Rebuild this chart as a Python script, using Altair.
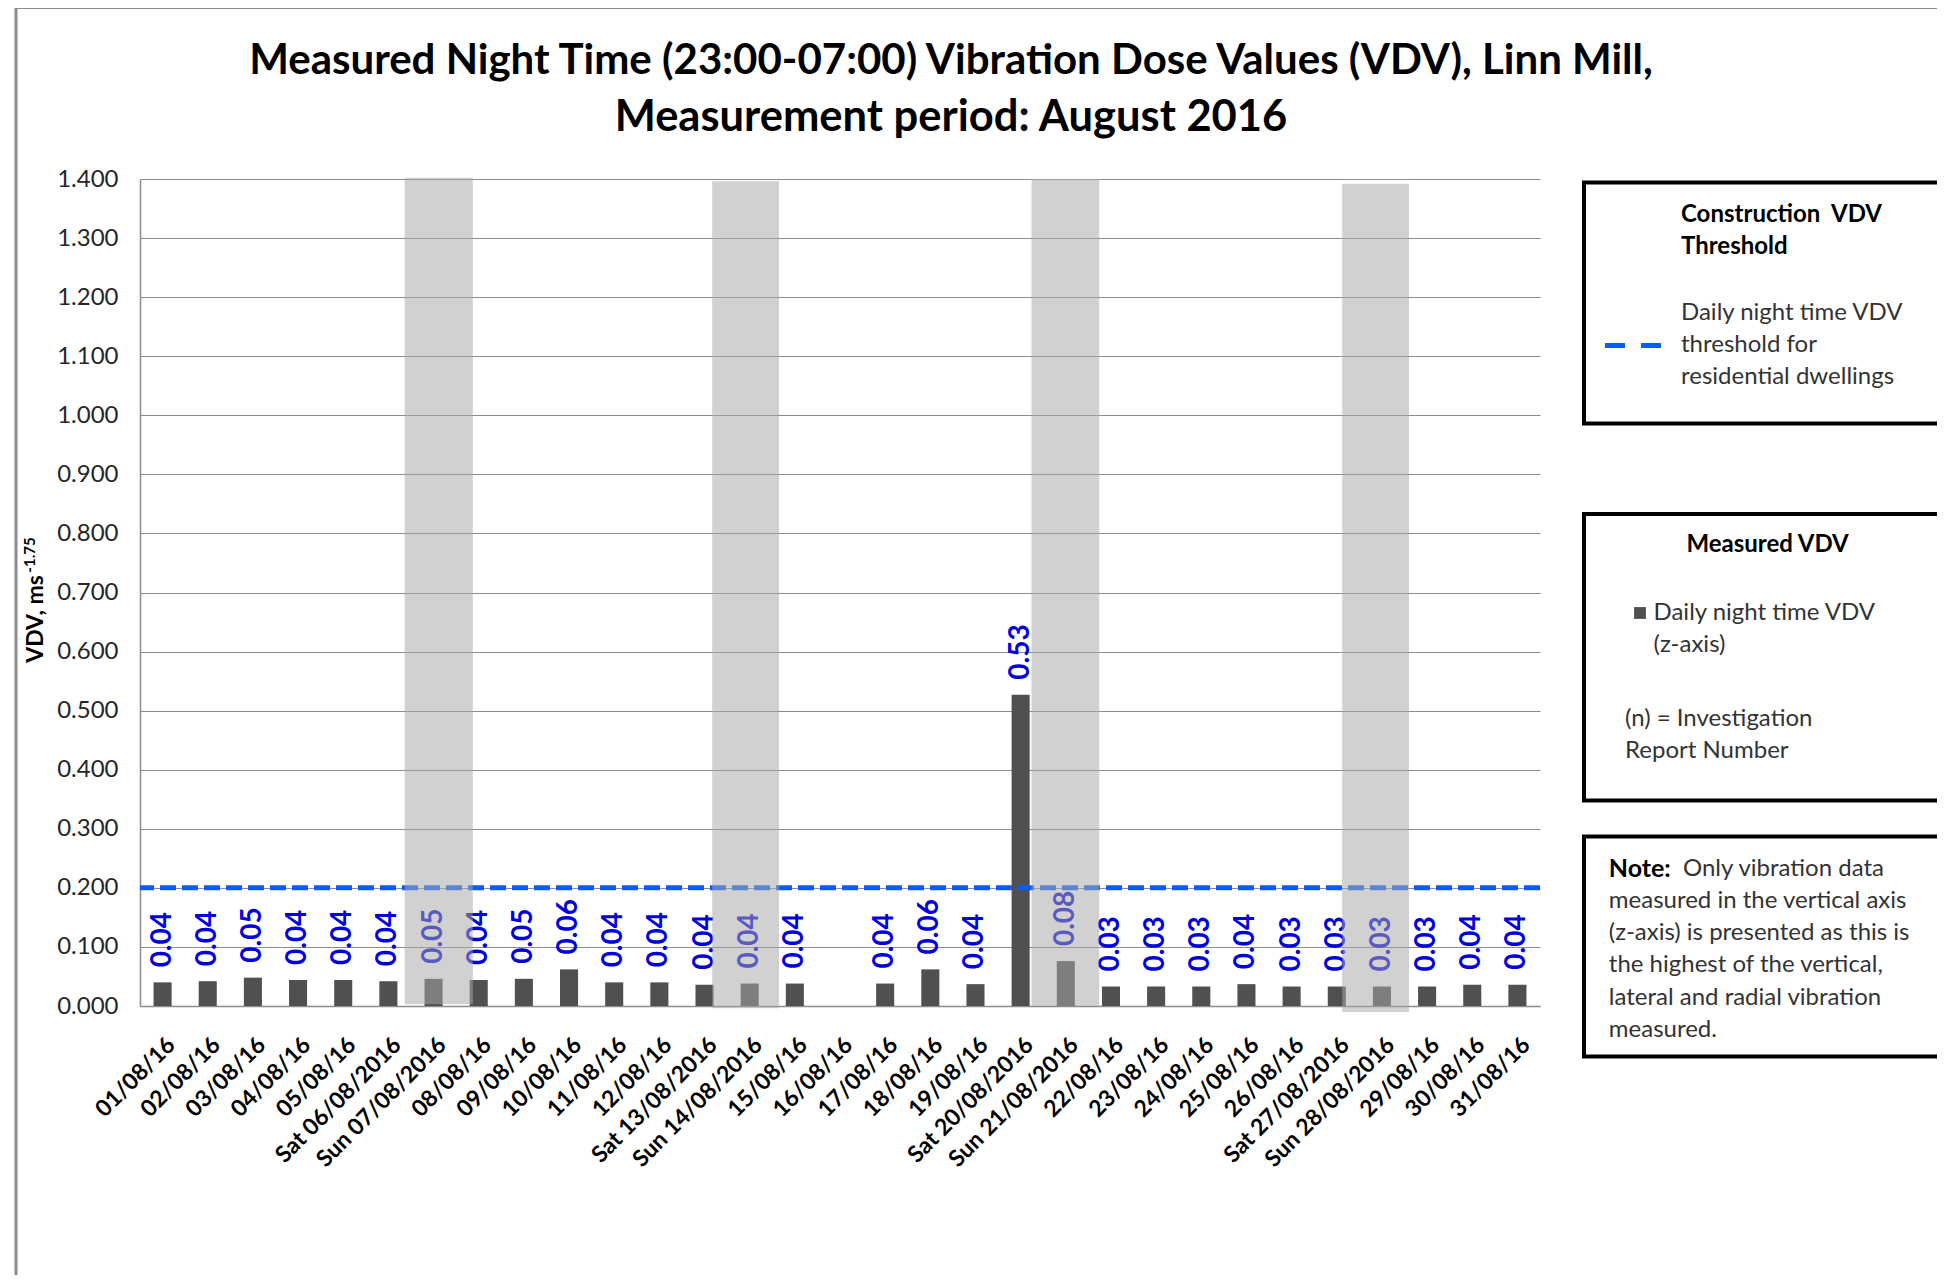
import altair as alt
import pandas as pd

# ---------------- data ----------------
DAYS = ["01/08/16", "02/08/16", "03/08/16", "04/08/16", "05/08/16",
        "Sat 06/08/2016", "Sun 07/08/2016", "08/08/16", "09/08/16", "10/08/16",
        "11/08/16", "12/08/16", "Sat 13/08/2016", "Sun 14/08/2016", "15/08/16",
        "16/08/16", "17/08/16", "18/08/16", "19/08/16", "Sat 20/08/2016",
        "Sun 21/08/2016", "22/08/16", "23/08/16", "24/08/16", "25/08/16",
        "26/08/16", "Sat 27/08/2016", "Sun 28/08/2016", "29/08/16", "30/08/16",
        "31/08/16"]
VDV = [0.040, 0.042, 0.048, 0.044, 0.044,
       0.042, 0.046, 0.044, 0.046, 0.062,
       0.040, 0.040, 0.036, 0.038, 0.038,
       None, 0.038, 0.062, 0.037, 0.527,
       0.076, 0.033, 0.033, 0.033, 0.037,
       0.033, 0.033, 0.033, 0.033, 0.036,
       0.036]
THRESHOLD = [0.2]
Y_TICKS = [0.0, 0.1, 0.2, 0.3, 0.4, 0.5, 0.6, 0.7, 0.8, 0.9, 1.0, 1.1, 1.2, 1.3, 1.4]

# weekend shading (in day-number units, 1 = 01/08)
WK_START = [6.36, 13.17, 20.24, 27.12]
WK_END = [7.87, 14.65, 21.74, 28.60]
WK_BOTTOM = [0.003, -0.004, 0.0, -0.010]
WK_TOP = [1.402, 1.396, 1.400, 1.392]

TITLE = ["Measured Night Time (23:00-07:00) Vibration Dose Values (VDV), Linn Mill,",
         "Measurement period: August 2016"]
Y_TITLE = "VDV, ms"
Y_TITLE_SUP = "-1.75"

LEG1_HEAD = ["Construction\u00a0\u00a0VDV", "Threshold"]
LEG1_BODY = ["Daily night time VDV", "threshold for", "residential dwellings"]
LEG2_HEAD = "Measured VDV"
LEG2_BODY = ["Daily night time VDV", "(z-axis)"]
LEG2_NOTE = ["(n) = Investigation", "Report Number"]
NOTE_BOLD = "Note:"
NOTE_LINES = ["Only vibration data", "measured in the vertical axis",
              "(z-axis) is presented  as this is", "the highest of the vertical,",
              "lateral and radial vibration", "measured."]

W, H = 1400, 827
FONT = "Lato"
BAR_COLOR = "#505050"
BLUE = "#0a5cff"
LABEL_BLUE = "#0000e0"

df = pd.DataFrame({"day": DAYS, "vdv": VDV})
wk = pd.DataFrame({"s": WK_START, "e": WK_END, "b": WK_BOTTOM, "t": WK_TOP})

yscale = alt.Scale(domain=[0, 1.4], nice=False, zero=True)

x_band = alt.X(
    "day:N", sort=DAYS,
    scale=alt.Scale(paddingInner=0.6, paddingOuter=0.3),
    axis=alt.Axis(title=None, labelAngle=-45, labelAlign="right", labelBaseline="middle",
                  labelFont=FONT, labelFontWeight="bold", labelFontSize=23,
                  labelColor="#000000", ticks=False, domainColor="#8c8c8c",
                  domainWidth=1.5, labelPadding=35, labelOffset=9, labelLimit=0,
                  labelOverlap=False),
)
y_enc = alt.Y(
    "vdv:Q", scale=yscale,
    axis=alt.Axis(values=Y_TICKS, format=".3f", title=None, ticks=False, grid=True,
                  gridColor="#8c8c8c", gridWidth=1.2, domainColor="#8c8c8c", domainWidth=1.5,
                  labelFont=FONT, labelFontSize=24, labelColor="#262626", labelPadding=22),
)

bars = alt.Chart(df).mark_bar(color=BAR_COLOR).encode(x=x_band, y=y_enc)

labels = alt.Chart(df).transform_filter("datum.vdv != null").mark_text(
    angle=270, align="left", baseline="middle", dx=15,
    font=FONT, fontWeight="bold", fontSize=28, color=LABEL_BLUE,
).encode(x=alt.X("day:N", sort=DAYS), y=alt.Y("vdv:Q", scale=yscale),
         text=alt.Text("vdv:Q", format=".2f"))

thr = alt.Chart(pd.DataFrame({"t": THRESHOLD})).mark_rule(
    color=BLUE, strokeWidth=5, strokeDash=[16, 6]
).encode(y=alt.Y("t:Q", scale=yscale))

main = alt.layer(bars, labels, thr)

bands = alt.Chart(wk).mark_rect(color="#a9a9a9", opacity=0.53).encode(
    x=alt.X("s:Q", scale=alt.Scale(domain=[0.5, 31.5], nice=False, zero=False), axis=None),
    x2="e:Q",
    y=alt.Y("b:Q", scale=yscale),
    y2="t:Q",
)

one = pd.DataFrame({"k": [0]})


def txt(s, x, y, size=24, bold=False, color="#333333", align="left", angle=0):
    return alt.Chart(pd.DataFrame({"t": [s]})).mark_text(
        font=FONT, fontSize=size, fontWeight="bold" if bold else "normal",
        color=color, align=align, baseline="middle", angle=angle,
    ).encode(x=alt.value(x), y=alt.value(y), text="t:N")


def box(x, y, x2, y2, color, width):
    return alt.Chart(one).mark_rect(fillOpacity=0, stroke=color, strokeWidth=width).encode(
        x=alt.value(x), y=alt.value(y), x2=alt.value(x2), y2=alt.value(y2))


deco = [
    box(-124, -171.5, 1900, 1200, "#8c8c8c", 3),
    box(1444, 3.4, 1900, 244.4, "#000000", 4),
    box(1444, 335, 1900, 621.4, "#000000", 4),
    box(1444, 657.4, 1900, 877.4, "#000000", 4),
    txt(TITLE[0], 811, -118, size=42, bold=True, color="#000000", align="center"),
    txt(TITLE[1], 811, -61, size=43.5, bold=True, color="#000000", align="center"),
    txt(Y_TITLE, -104, 440, size=23, bold=True, color="#000000", align="center", angle=270),
    txt(Y_TITLE_SUP, -110, 376, size=15, bold=True, color="#000000", align="center", angle=270),
    alt.Chart(one).mark_rule(color=BLUE, strokeWidth=5, strokeDash=[20, 16]).encode(
        x=alt.value(1465), x2=alt.value(1522), y=alt.value(166.4)),
    alt.Chart(one).mark_square(color=BAR_COLOR, size=140, opacity=1).encode(
        x=alt.value(1500), y=alt.value(434)),
]
for i, s in enumerate(LEG1_HEAD):
    deco.append(txt(s, 1541, 36 + 32.2 * i, bold=True, color="#000000"))
for i, s in enumerate(LEG1_BODY):
    deco.append(txt(s, 1541, 134 + 32.2 * i))
deco.append(txt(LEG2_HEAD, 1627.6, 366, bold=True, color="#000000", align="center"))
for i, s in enumerate(LEG2_BODY):
    deco.append(txt(s, 1513.5, 434 + 32.2 * i))
for i, s in enumerate(LEG2_NOTE):
    deco.append(txt(s, 1485, 539.6 + 32.2 * i))
deco.append(txt(NOTE_BOLD, 1468.8, 689.7, size=25, bold=True, color="#000000"))
for i, s in enumerate(NOTE_LINES):
    deco.append(txt(s, 1543 if i == 0 else 1468.8, 689.7 + 32.2 * i))

chart = alt.layer(main, bands, *deco).resolve_scale(x="independent").properties(
    width=W, height=H,
    autosize=alt.AutoSizeParams(type="none"),
    padding={"left": 132, "top": 171, "right": 397, "bottom": 269},
).configure_view(stroke=None)

chart.save("out.html", embed_options={"renderer": "svg", "actions": False})
